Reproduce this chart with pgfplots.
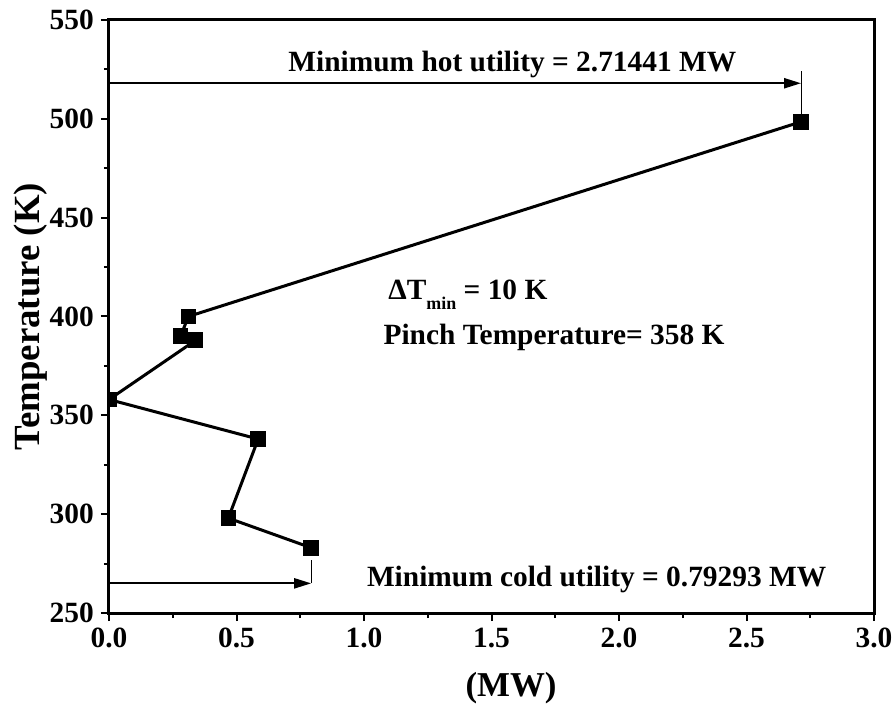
\documentclass[border=0pt]{standalone}
\usepackage{pgfplots}
\pgfplotsset{compat=1.18}
\usepackage{fontspec}
\setmainfont{Liberation Serif}
\usetikzlibrary{arrows.meta}
\begin{document}
\fontsize{29.5}{33}\selectfont\bfseries
\begin{tikzpicture}
\begin{axis}[
  scale only axis, width=765bp, height=593bp,
  at={(0,0)}, anchor=south west,
  xmin=0, xmax=3, ymin=250, ymax=550,
  xtick={0,0.5,1,1.5,2,2.5,3}, ytick={250,300,350,400,450,500,550},
  minor tick num=1,
  tick align=outside, tick pos=left,
  major tick length=8bp, minor tick length=5bp,
  every tick/.style={black, line width=2bp},
  axis line style={line width=3bp},
  /pgf/number format/assume math mode=true,
  tick label style={font=\fontsize{29.5}{33}\selectfont\bfseries, inner sep=0pt},
  xticklabel style={anchor=north, yshift=-7bp, /pgf/number format/.cd, fixed, fixed zerofill, precision=1},
  yticklabel style={anchor=east, xshift=-7bp, /pgf/number format/.cd, fixed, precision=0},
  xlabel={(MW)}, ylabel={Temperature (K)},
  every axis x label/.style={at={(axis description cs:0.5255,-0.1265)}, anchor=center, font=\fontsize{35}{38}\selectfont\bfseries},
  every axis y label/.style={at={(axis description cs:-0.103,0.5)}, rotate=90, anchor=center, font=\fontsize{37}{40}\selectfont\bfseries},
  clip=true, clip marker paths=true,
]
\addplot[black, line width=3bp, mark=square*, mark size=6.3bp, mark options={solid}]
  coordinates {(2.714,498.5) (0.311,400) (0.281,390) (0.340,388) (0,358) (0.585,338) (0.468,298) (0.793,283)};
\addplot[black, line width=2.2bp, -{Triangle[length=17bp,width=10bp]}] coordinates {(0,518) (2.714,518)};
\addplot[black, line width=1bp] coordinates {(2.714,524) (2.714,501)};
\addplot[black, line width=2.2bp, -{Triangle[length=17bp,width=10bp]}] coordinates {(0,265) (0.793,265)};
\addplot[black, line width=1bp] coordinates {(0.793,265) (0.793,277)};
\node[anchor=base west, inner sep=0pt] at (axis cs:1.095,408.4) {ΔT\raisebox{-10bp}{\fontsize{18}{18}\selectfont min} = 10 K};
\node[anchor=base west, inner sep=0pt] at (axis cs:0.703,523.9) {Minimum hot utility = 2.71441 MW};
\node[anchor=base west, inner sep=0pt] at (axis cs:1.076,385.6) {Pinch Temperature= 358 K};
\node[anchor=base west, inner sep=0pt] at (axis cs:1.011,263.4) {Minimum cold utility = 0.79293 MW};
\end{axis}
\pgfresetboundingbox
\path (-109bp,-93bp) rectangle (784bp,613bp);
\end{tikzpicture}
\end{document}
